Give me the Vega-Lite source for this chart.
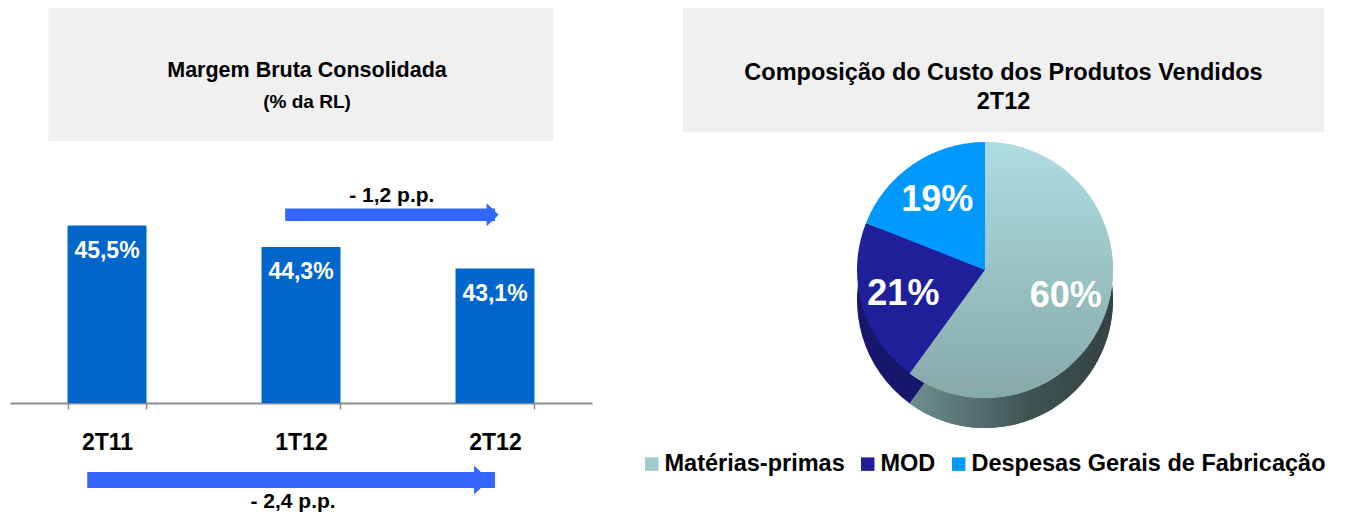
{
  "$schema": "https://vega.github.io/schema/vega-lite/v6.json",
  "padding": {"left": 10, "top": 8, "right": 0, "bottom": 0},
  "background": "white",
  "config": {"font": "Liberation Sans", "view": {"stroke": null}},
  "datasets": {
    "bars": [
      {"q": "2T11", "v": 45.5, "label": "45,5%"},
      {"q": "1T12", "v": 44.3, "label": "44,3%"},
      {"q": "2T12", "v": 43.1, "label": "43,1%"}
    ],
    "arrows": [
      {"from": "1T12", "to": "2T12", "label": "- 1,2 p.p."},
      {"from": "2T11", "to": "2T12", "label": "- 2,4 p.p."}
    ],
    "pie": [
      {"cat": "Matérias-primas", "pct": 60, "o": 1, "label": "60%"},
      {"cat": "MOD", "pct": 21, "o": 2, "label": "21%"},
      {"cat": "Despesas Gerais de Fabricação", "pct": 19, "o": 3, "label": "19%"}
    ]
  },
  "spacing": 48,
  "hconcat": [
    {
      "bounds": "flush",
      "spacing": 12,
      "center": true,
      "vconcat": [
        {
          "width": 505,
          "height": 133,
          "view": {"fill": "#F0F0F0", "stroke": null},
          "data": {"values": [{"line": 1, "t": "Margem Bruta Consolidada"}, {"line": 2, "t": "(% da RL)"}]},
          "layer": [
            {
              "transform": [{"filter": "datum.line == 1"}],
              "mark": {"type": "text", "fontSize": 21.5, "fontWeight": "bold", "color": "#000000", "baseline": "middle", "dy": -4, "dx": 6},
              "encoding": {"text": {"field": "t", "type": "nominal"}}
            },
            {
              "transform": [{"filter": "datum.line == 2"}],
              "mark": {"type": "text", "fontSize": 19, "fontWeight": "bold", "color": "#000000", "baseline": "middle", "dy": 27, "dx": 6},
              "encoding": {"text": {"field": "t", "type": "nominal"}}
            }
          ]
        },
        {
          "width": 582,
          "height": 250,
          "layer": [
            {
              "data": {"name": "bars"},
              "mark": {"type": "bar", "color": "#0066CC"},
              "encoding": {
                "x": {"field": "q", "type": "nominal", "title": null,
                  "scale": {"domain": ["2T11", "1T12", "2T12"], "paddingInner": 0.593, "paddingOuter": 0.2965},
                  "axis": {"labelAngle": 0, "labelFontSize": 23, "labelFontWeight": "bold", "labelColor": "#000000",
                    "labelPadding": 22, "domainColor": "#8C8C8C", "domainWidth": 2, "tickColor": "#8C8C8C",
                    "tickWidth": 1.5, "tickSize": 6, "tickBand": "extent"}},
                "y": {"field": "v", "type": "quantitative", "scale": {"domain": [35.6, 49.55], "zero": false, "nice": false}, "axis": null},
                "y2": {"datum": 35.6}
              }
            },
            {
              "data": {"name": "bars"},
              "mark": {"type": "text", "color": "#FFFFFF", "fontSize": 23, "fontWeight": "bold", "baseline": "middle", "dy": 25},
              "encoding": {
                "x": {"field": "q", "type": "nominal"},
                "y": {"field": "v", "type": "quantitative"},
                "text": {"field": "label", "type": "nominal"}
              }
            },
            {
              "data": {"name": "arrows"},
              "transform": [{"filter": "datum.from == '1T12'"}],
              "mark": {"type": "rule", "color": "#3366FF", "strokeWidth": 12.5, "strokeCap": "butt"},
              "encoding": {
                "x": {"field": "from", "type": "nominal", "bandPosition": 0.3},
                "x2": {"field": "to"},
                "y": {"datum": 46.1}
              }
            },
            {
              "data": {"name": "arrows"},
              "transform": [{"filter": "datum.from == '1T12'"}],
              "mark": {"type": "point", "shape": "M-0.52,-1L0.52,0L-0.52,1Z", "filled": true, "color": "#3366FF", "opacity": 1, "size": 529, "strokeWidth": 0},
              "encoding": {
                "x": {"field": "to", "type": "nominal", "bandPosition": 0.47},
                "y": {"datum": 46.1}
              }
            },
            {
              "data": {"name": "arrows"},
              "transform": [{"filter": "datum.from == '1T12'"}],
              "mark": {"type": "text", "fontSize": 21, "fontWeight": "bold", "color": "#000000", "baseline": "middle"},
              "encoding": {
                "x": {"field": "from", "type": "nominal", "bandPosition": 1.65},
                "y": {"datum": 47.15},
                "text": {"field": "label", "type": "nominal"}
              }
            },
            {
              "data": {"name": "arrows"},
              "transform": [{"filter": "datum.from == '2T11'"}],
              "mark": {"type": "rule", "color": "#3366FF", "strokeWidth": 16, "strokeCap": "butt"},
              "encoding": {
                "x": {"field": "from", "type": "nominal", "bandPosition": 0.25},
                "x2": {"field": "to"},
                "y": {"datum": 31.3}
              }
            },
            {
              "data": {"name": "arrows"},
              "transform": [{"filter": "datum.from == '2T11'"}],
              "mark": {"type": "point", "shape": "M-0.52,-1L0.52,0L-0.52,1Z", "filled": true, "color": "#3366FF", "opacity": 1, "size": 841, "strokeWidth": 0},
              "encoding": {
                "x": {"field": "to", "type": "nominal", "bandPosition": 0.33},
                "y": {"datum": 31.3}
              }
            },
            {
              "data": {"name": "arrows"},
              "transform": [{"filter": "datum.from == '2T11'"}],
              "mark": {"type": "text", "fontSize": 21, "fontWeight": "bold", "color": "#000000", "baseline": "middle"},
              "encoding": {
                "x": {"datum": "1T12", "bandPosition": 0.4},
                "y": {"datum": 30.1},
                "text": {"field": "label", "type": "nominal"}
              }
            }
          ]
        }
      ]
    },
    {
      "bounds": "flush",
      "spacing": 8,
      "vconcat": [
        {
          "width": 641,
          "height": 124,
          "view": {"fill": "#F0F0F0", "stroke": null},
          "data": {"values": [{"line": 1, "t": "Composição do Custo dos Produtos Vendidos"}, {"line": 2, "t": "2T12"}]},
          "layer": [
            {
              "transform": [{"filter": "datum.line == 1"}],
              "mark": {"type": "text", "fontSize": 23.5, "fontWeight": "bold", "color": "#000000", "baseline": "middle", "dy": 3},
              "encoding": {"text": {"field": "t", "type": "nominal"}}
            },
            {
              "transform": [{"filter": "datum.line == 2"}],
              "mark": {"type": "text", "fontSize": 23.5, "fontWeight": "bold", "color": "#000000", "baseline": "middle", "dy": 32},
              "encoding": {"text": {"field": "t", "type": "nominal"}}
            }
          ]
        },
        {
          "width": 604,
          "height": 260,
          "data": {"name": "pie"},
          "encoding": {
            "theta": {"field": "pct", "type": "quantitative", "stack": true},
            "order": {"field": "o", "type": "quantitative"}
          },
          "layer": [
            {
              "mark": {"type": "arc", "radius": 128, "yOffset": 30},
              "encoding": {
                "color": {"field": "cat", "type": "nominal",
                  "scale": {"domain": ["Matérias-primas", "MOD", "Despesas Gerais de Fabricação"], "range": ["#4E6868", "#16166C", "#0077C8"]},
                  "legend": null}
              }
            },
            {
              "mark": {"type": "arc", "radius": 128, "yOffset": 30},
              "encoding": {
                "fill": {"condition": {"test": "datum.cat === 'Matérias-primas'",
                  "value": {"gradient": "linear", "x1": 0, "y1": 0, "x2": 1, "y2": 0,
                    "stops": [{"offset": 0, "color": "#6F8F8F"}, {"offset": 0.6, "color": "#3F5252"}, {"offset": 1, "color": "#334242"}]}},
                  "value": "transparent"}
              }
            },
            {
              "mark": {"type": "arc", "radius": 128},
              "encoding": {
                "color": {"field": "cat", "type": "nominal",
                  "scale": {"domain": ["Matérias-primas", "MOD", "Despesas Gerais de Fabricação"], "range": ["#A0CBCE", "#201F9A", "#0099FF"]},
                  "legend": {"title": null, "orient": "none", "legendX": -43, "legendY": 312, "direction": "horizontal",
                    "symbolType": "square", "symbolSize": 182, "symbolStrokeWidth": 0, "labelFontSize": 23.5,
                    "labelFontWeight": "bold", "labelColor": "#000000", "labelLimit": 600, "columnPadding": 11, "labelOffset": 1}}
              }
            },
            {
              "mark": {"type": "arc", "radius": 128},
              "encoding": {
                "fill": {"condition": {"test": "datum.cat === 'Matérias-primas'",
                  "value": {"gradient": "linear", "x1": 0, "y1": 0, "x2": 0, "y2": 1,
                    "stops": [{"offset": 0, "color": "#AEDDE1"}, {"offset": 1, "color": "#86A9A9"}]}},
                  "value": "transparent"}
              }
            },
            {
              "mark": {"type": "text", "radius": 85, "fontSize": 36, "fontWeight": "bold", "color": "#FFFFFF", "baseline": "middle"},
              "encoding": {"text": {"field": "label", "type": "nominal"}}
            }
          ],
          "resolve": {"scale": {"color": "independent"}}
        }
      ]
    }
  ]
}
